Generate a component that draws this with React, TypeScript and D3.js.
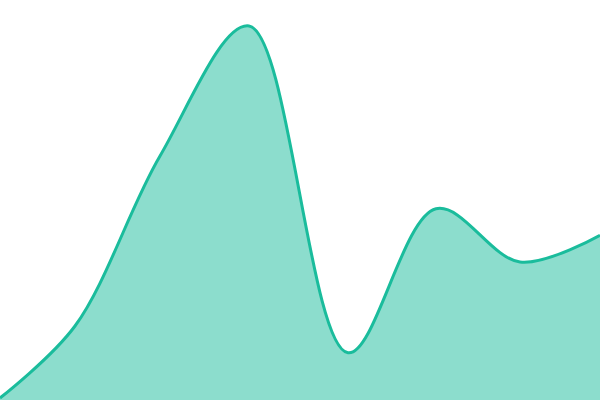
import React from "react";
import * as d3 from "d3";

const xValues = [0, 7.5, 16, 24.9, 34.8, 43.6, 52, 60];
const yValues = [0.5, 18.5, 61, 93.5, 11.8, 47.8, 34.5, 41.2];

const W = 600;
const H = 400;

export default function App() {
  const data = xValues.map((x, i) => ({ x, y: yValues[i] }));
  const xs = d3.scaleLinear().domain([0, 60]).range([0, W]);
  const ys = d3.scaleLinear().domain([0, 100]).range([H, 0]);
  const curve = d3.curveCatmullRom.alpha(0.5);
  const area = d3
    .area<{ x: number; y: number }>()
    .x((d) => xs(d.x))
    .y0(H)
    .y1((d) => ys(d.y))
    .curve(curve);
  const line = d3
    .line<{ x: number; y: number }>()
    .x((d) => xs(d.x))
    .y((d) => ys(d.y))
    .curve(curve);
  return (
    <svg
      width={W}
      height={H}
      style={{ position: "fixed", left: 0, top: 0, background: "#fff" }}
    >
      <path d={area(data) || ""} fill="#1abc9c" fillOpacity={0.5} />
      <path d={line(data) || ""} fill="none" stroke="#1abc9c" strokeWidth={3} />
    </svg>
  );
}
